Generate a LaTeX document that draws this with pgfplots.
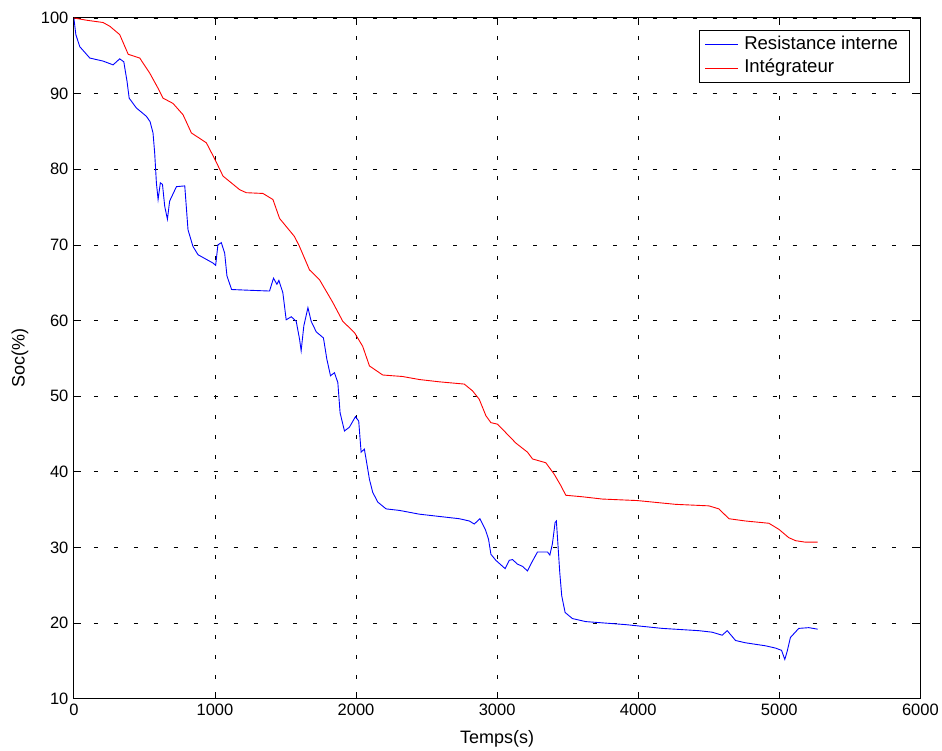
\documentclass[border=0pt]{standalone}
\usepackage{pgfplots}
\pgfplotsset{compat=1.18}
\usepackage{fontspec}
\setmainfont{Liberation Sans}
\definecolor{mblue}{RGB}{0,0,255}
\definecolor{mred}{RGB}{255,0,0}
\begin{document}
\begin{tikzpicture}
\begin{axis}[
  scale only axis,
  width=848bp, height=682bp,
  xmin=0, xmax=6000, ymin=10, ymax=100,
  xtick={0,1000,...,6000}, ytick={10,20,...,100},
  /pgf/number format/1000 sep={},
  /pgf/number format/assume math mode=true,
  tick label style={font=\fontsize{16.5bp}{18bp}\selectfont, black},
  yticklabel style={xshift=-2bp},
  xticklabel style={yshift=-2bp},
  tick align=inside,
  major tick length=7bp,
  tick style={black, line width=0.75bp},
  axis line style={black, line width=1bp},
  grid=major,
  grid style={black, line width=0.75bp, dash pattern=on 4bp off 16bp},
  xlabel={Temps(s)},
  ylabel={Soc(\%)},
  label style={font=\fontsize{18bp}{20bp}\selectfont},
  xlabel style={at={(axis description cs:0.5,0)}, anchor=center, yshift=-40bp},
  ylabel style={at={([xshift=-54bp]axis description cs:0,0.5)}, anchor=center},
  legend style={draw=black, line width=0.75bp, fill=white,
    at={(axis description cs:1,1)}, anchor=north east, xshift=-11bp, yshift=-12bp,
    font=\fontsize{18.6bp}{20bp}\selectfont,
    inner xsep=5.5bp, inner ysep=2.5bp, row sep=0bp,
    nodes={inner xsep=5.5bp, inner ysep=3bp, text height=13.5bp, text depth=4bp},
    cells={anchor=west}},
  legend image code/.code={\draw[#1] (0bp,0bp) -- (33bp,0bp);},
]
\addplot[mblue, line width=0.9bp] coordinates {
(0,100) (14,97.8) (42,96.2) (113,94.7) (207,94.3) (278,93.8) (325,94.6) (354,94.2)
(377,91.6) (392,89.4) (443,88.1) (514,87.0) (540,86.3) (561,84.8) (573,82.1) (585,78.2)
(597,76.0) (613,78.2) (628,78.0) (644,75.1) (663,73.4) (679,75.8) (727,77.7) (786,77.8)
(809,72.0) (844,69.8) (880,68.7) (986,67.6) (1005,67.3) (1021,70.0) (1045,70.3) (1069,68.9)
(1085,65.9) (1118,64.1) (1246,64.0) (1387,63.9) (1415,65.6) (1439,64.8) (1453,65.3) (1481,63.7)
(1505,60.1) (1541,60.5) (1576,59.9) (1600,57.5) (1611,56.0) (1630,59.3) (1659,61.7) (1682,59.9)
(1718,58.5) (1769,57.7) (1793,54.9) (1819,52.7) (1847,53.1) (1871,51.8) (1887,47.8) (1918,45.4)
(1953,45.9) (1996,47.3) (2019,46.7) (2036,42.6) (2059,43.0) (2071,41.7) (2095,39.0) (2118,37.3)
(2154,36.0) (2213,35.1) (2307,34.9) (2449,34.4) (2732,33.8) (2803,33.5) (2838,33.1) (2878,33.8)
(2916,32.4) (2939,31.1) (2956,29.1) (2991,28.3) (3057,27.2) (3086,28.3) (3109,28.4) (3144,27.8)
(3180,27.5) (3215,26.9) (3239,27.8) (3286,29.4) (3357,29.4) (3374,29.0) (3392,30.5) (3411,33.3)
(3420,33.5) (3430,30.7) (3444,26.7) (3458,23.6) (3482,21.4) (3534,20.6) (3628,20.2) (3770,20.0)
(3911,19.8) (4171,19.3) (4430,19.0) (4524,18.8) (4595,18.4) (4631,19.0) (4690,17.7) (4760,17.4)
(4902,17.0) (4973,16.7) (5016,16.4) (5039,15.2) (5055,16.2) (5079,18.1) (5138,19.3) (5209,19.4)
(5272,19.2)
};
\addlegendentry{Resistance interne}
\addplot[mred, line width=0.9bp] coordinates {
(0,100) (90,99.7) (207,99.4) (255,98.9) (325,97.8) (385,95.2) (467,94.7) (538,92.7)
(597,90.7) (632,89.4) (703,88.7) (774,87.2) (833,84.8) (939,83.5) (1000,81.3) (1057,79.1)
(1175,77.3) (1222,76.9) (1340,76.8) (1411,76.0) (1458,73.5) (1564,71.1) (1599,69.8) (1670,66.7)
(1741,65.4) (1835,62.4) (1906,59.9) (1989,58.4) (2047,56.6) (2095,54.0) (2189,52.8) (2330,52.6)
(2449,52.2) (2590,51.9) (2767,51.6) (2826,50.7) (2873,49.6) (2921,47.4) (2956,46.5) (3003,46.3)
(3133,43.8) (3215,42.6) (3251,41.7) (3345,41.2) (3404,39.7) (3451,38.2) (3487,36.9) (3605,36.7)
(3746,36.4) (3994,36.2) (4265,35.7) (4501,35.5) (4572,35.1) (4643,33.8) (4760,33.5) (4926,33.2)
(4997,32.4) (5067,31.3) (5115,30.9) (5185,30.7) (5272,30.7)
};
\addlegendentry{Intégrateur}
\end{axis}
\path ([xshift=-74bp,yshift=-52bp]current axis.south west) rectangle ([xshift=20bp,yshift=18bp]current axis.north east);
\end{tikzpicture}
\end{document}
